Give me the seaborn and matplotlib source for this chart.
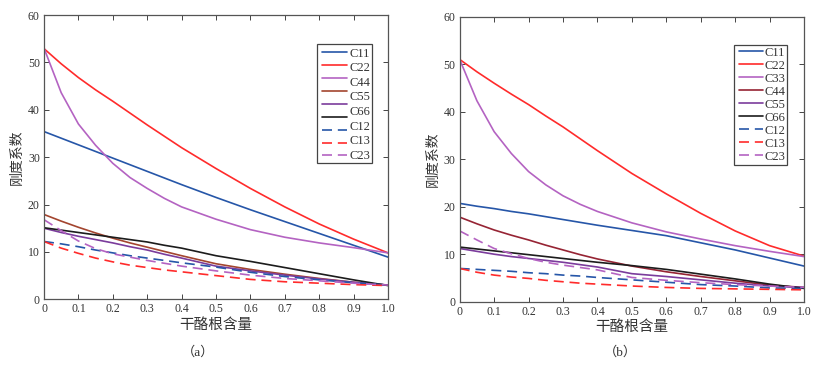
import matplotlib
matplotlib.use("Agg")
import matplotlib.pyplot as plt
from matplotlib.lines import Line2D
from matplotlib.legend_handler import HandlerLine2D
import seaborn as sns
import numpy as np

# ---------------- data ----------------
X = [0, 0.05, 0.1, 0.15, 0.2, 0.25, 0.3, 0.35, 0.4, 0.5, 0.6, 0.7, 0.8, 0.9, 1.0]

# panel (a)
a_C11 = [35.4, 34.0, 32.6, 31.2, 29.8, 28.4, 27.0, 25.6, 24.2, 21.5, 18.9, 16.4, 13.9, 11.4, 8.9]
a_C22 = [52.9, 49.7, 46.8, 44.2, 41.8, 39.3, 36.8, 34.4, 32.0, 27.6, 23.4, 19.5, 15.9, 12.7, 9.8]
a_C33 = [53.0, 43.6, 37.0, 32.5, 28.7, 25.7, 23.4, 21.3, 19.5, 16.9, 14.7, 13.1, 11.9, 10.9, 9.8]
a_C44 = [17.9, 16.5, 15.2, 14.0, 12.9, 11.9, 11.0, 10.1, 9.2, 7.5, 6.3, 5.3, 4.4, 3.6, 3.0]
a_C55 = [15.0, 14.1, 13.3, 12.6, 11.9, 11.1, 10.4, 9.5, 8.7, 7.0, 6.0, 5.1, 4.3, 3.6, 3.0]
a_C66 = [15.1, 14.6, 14.1, 13.6, 13.1, 12.6, 12.1, 11.4, 10.8, 9.2, 8.0, 6.7, 5.4, 4.1, 2.9]
a_C12 = [12.2, 11.7, 11.1, 10.4, 9.8, 9.2, 8.7, 8.2, 7.7, 6.8, 5.7, 4.8, 4.1, 3.5, 3.0]
a_C13 = [12.2, 10.8, 9.7, 8.7, 7.9, 7.2, 6.7, 6.2, 5.8, 5.0, 4.2, 3.7, 3.4, 3.1, 2.9]
a_C23 = [16.8, 14.5, 12.3, 10.7, 9.6, 8.9, 8.2, 7.6, 7.0, 6.0, 5.1, 4.4, 3.9, 3.4, 3.0]
a_labels = ["C11", "C22", "C44", "C55", "C66", "C12", "C13", "C23"]

# panel (b)
b_C11 = [20.7, 20.1, 19.6, 19.0, 18.5, 17.9, 17.3, 16.7, 16.1, 15.0, 13.9, 12.4, 10.9, 9.2, 7.5]
b_C22 = [51.0, 48.4, 46.0, 43.7, 41.5, 39.1, 36.8, 34.3, 31.8, 27.0, 22.7, 18.6, 14.9, 11.8, 9.6]
b_C33 = [51.0, 42.3, 35.8, 31.2, 27.4, 24.6, 22.3, 20.5, 19.0, 16.6, 14.7, 13.2, 11.8, 10.6, 9.5]
b_C44 = [17.8, 16.4, 15.1, 14.0, 13.0, 11.9, 10.9, 9.9, 9.0, 7.5, 6.3, 5.3, 4.4, 3.5, 3.0]
b_C55 = [11.2, 10.6, 10.0, 9.5, 9.1, 8.7, 8.3, 7.8, 7.3, 5.9, 5.3, 4.6, 3.9, 3.3, 3.0]
b_C66 = [11.5, 11.1, 10.7, 10.3, 9.9, 9.5, 9.1, 8.7, 8.3, 7.6, 6.8, 5.8, 4.8, 3.7, 2.8]
b_C12 = [7.0, 6.8, 6.6, 6.4, 6.1, 5.9, 5.6, 5.4, 5.1, 4.6, 4.1, 3.6, 3.3, 2.9, 2.8]
b_C13 = [7.0, 6.2, 5.6, 5.2, 4.9, 4.5, 4.2, 3.9, 3.7, 3.3, 3.0, 2.8, 2.7, 2.6, 2.5]
b_C23 = [14.9, 13.0, 11.2, 10.1, 9.1, 8.3, 7.7, 7.2, 6.7, 5.1, 4.5, 4.0, 3.6, 3.3, 3.0]
b_labels = ["C11", "C22", "C33", "C44", "C55", "C66", "C12", "C13", "C23"]

xtick_vals = [0, 0.1, 0.2, 0.3, 0.4, 0.5, 0.6, 0.7, 0.8, 0.9, 1.0]
xtick_labels = ["0", "0.1", "0.2", "0.3", "0.4", "0.5", "0.6", "0.7", "0.8", "0.9", "1.0"]
ytick_vals = [0, 10, 20, 30, 40, 50, 60]
xlabel = "干酪根含量"
ylabel = "刚度系数"

# ---------------- style ----------------
sns.set_theme(style="ticks")
plt.rcParams["font.family"] = ["Liberation Serif", "Noto Sans CJK SC", "DejaVu Sans"]
plt.rcParams.update({
    "xtick.direction": "in", "ytick.direction": "in",
    "xtick.top": True, "ytick.right": True,
    "xtick.major.size": 3.5, "ytick.major.size": 3.5,
    "xtick.major.width": 0.7, "ytick.major.width": 0.7,
    "xtick.color": "#444444", "ytick.color": "#444444",
    "xtick.labelcolor": "#333333", "ytick.labelcolor": "#333333",
    "axes.edgecolor": "#555555", "axes.linewidth": 0.9,
})

BLUE = "#2656a8"
RED = "#ff2b2b"
LPURP = "#b463c2"
BROWN = "#a3452f"
DRED = "#962434"
PURP = "#7b3c9c"
BLACK = "#1c1c1c"
LW = 1.2
DASH = (0, (6, 3.5))

a_series = [
    (a_C11, BLUE, "-"), (a_C22, RED, "-"), (a_C33, LPURP, "-"), (a_C44, BROWN, "-"),
    (a_C55, PURP, "-"), (a_C66, BLACK, "-"),
    (a_C12, BLUE, DASH), (a_C13, RED, DASH), (a_C23, LPURP, DASH),
]
b_series = [
    (b_C11, BLUE, "-"), (b_C22, RED, "-"), (b_C33, LPURP, "-"), (b_C44, DRED, "-"),
    (b_C55, PURP, "-"), (b_C66, BLACK, "-"),
    (b_C12, BLUE, DASH), (b_C13, RED, DASH), (b_C23, LPURP, DASH),
]

W, H = 826, 368
fig = plt.figure(figsize=(W / 100, H / 100), dpi=100)
axA = fig.add_axes([44 / W, 1 - 299.3 / H, 344 / W, 284.3 / H])
axB = fig.add_axes([459.7 / W, 1 - 301.7 / H, 344.3 / W, 285 / H])


def draw(ax, series):
    lines = []
    for vals, col, ls in series:
        sns.lineplot(x=X, y=vals, ax=ax, color=col, linestyle=ls, linewidth=LW,
                     errorbar=None, legend=False)
        lines.append(ax.get_lines()[-1])
    ax.set_xlim(0, 1)
    ax.set_ylim(0, 60)
    ax.set_xticks(xtick_vals)
    ax.set_xticklabels(xtick_labels)
    ax.set_yticks(ytick_vals)
    ax.tick_params(labelsize=8.5, pad=3)
    ax.set_xlabel(xlabel, fontsize=10.5, color="#333333", labelpad=2)
    ax.set_ylabel(ylabel, fontsize=10, color="#333333", labelpad=3)
    for s in ax.spines.values():
        s.set_visible(True)
    return lines


linesA = draw(axA, a_series)
linesB = draw(axB, b_series)

px = 100 / 72

# ---- legend (a): 9 line samples, 8 labels (as in the original figure) ----
blank = [Line2D([], [], linestyle="none") for _ in a_labels]
fsA = 9
legText = axA.legend(blank, a_labels, loc="upper left",
                     bbox_to_anchor=(317 / W, 1 - 44 / H), bbox_transform=fig.transFigure,
                     borderaxespad=0, borderpad=0.1, prop={"size": fsA},
                     handlelength=2.34, handleheight=1.42,
                     labelspacing=0, handletextpad=0.2,
                     fancybox=False, framealpha=1, edgecolor="#444444")
legText.get_frame().set_linewidth(0.9)
for t in legText.get_texts():
    t.set_color("#333333")
axA.add_artist(legText)

fs_small = 1.0
legLines = axA.legend(linesA, [""] * 9, loc="upper left",
                      bbox_to_anchor=(322 / W, 1 - 48.4 / H), bbox_transform=fig.transFigure,
                      borderaxespad=0, borderpad=0, frameon=False, prop={"size": fs_small},
                      handlelength=25 / (fs_small * px), handleheight=14.0,
                      labelspacing=0, handletextpad=0)
legLines.set_zorder(7)

# ---- legend (b) ----
fsB = 9
legB = axB.legend(linesB, b_labels, loc="upper left",
                  bbox_to_anchor=(734 / W, 1 - 45 / H), bbox_transform=fig.transFigure,
                  borderaxespad=0, borderpad=0.1, prop={"size": fsB},
                  handlelength=28 / (fsB * px), handleheight=13 / (fsB * px),
                  labelspacing=0, handletextpad=0.12,
                  handler_map={Line2D: HandlerLine2D(xpad=4 / (fsB * px))},
                  fancybox=False, framealpha=1, edgecolor="#444444")
legB.get_frame().set_linewidth(0.9)
for t in legB.get_texts():
    t.set_color("#333333")

fig.text(198 / W, 1 - 352 / H, "（a）", ha="center", va="center", fontsize=9.5, color="#333333")
fig.text(620 / W, 1 - 352 / H, "（b）", ha="center", va="center", fontsize=9.5, color="#333333")

fig.savefig("out.png", dpi=100)
